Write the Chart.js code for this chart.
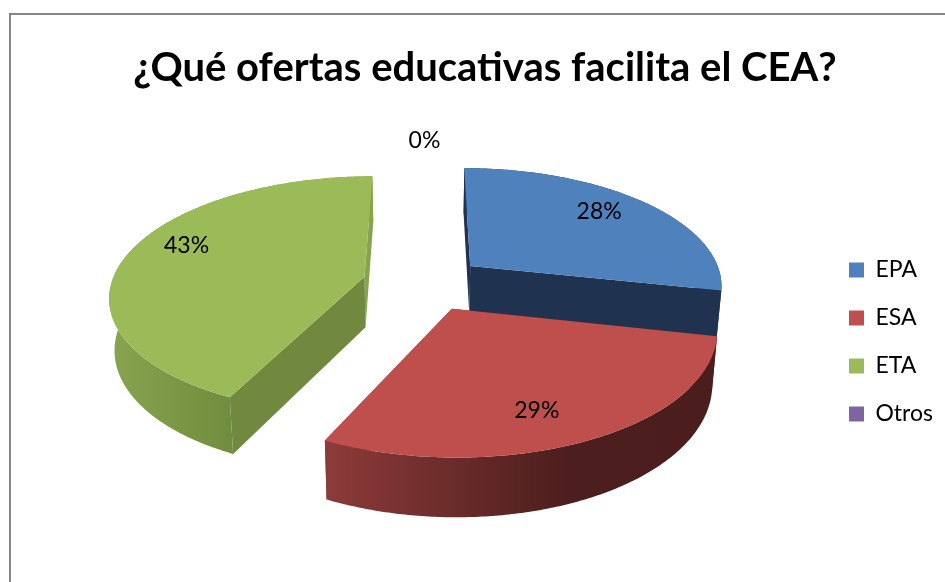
<!DOCTYPE html>
<html>
<head>
<meta charset="utf-8">
<script src="https://cdn.jsdelivr.net/npm/chart.js@4"></script>
<style>
html,body{margin:0;padding:0;background:#fff;overflow:hidden}
#frame{position:absolute;left:9px;top:13px;right:-4px;bottom:-4px;border:2px solid #868686;box-sizing:border-box}
canvas{position:absolute;left:0;top:0}
</style>
</head>
<body>
<div id="frame"></div>
<canvas id="c" width="945" height="582"></canvas>
<script>
const titleText = '¿Qué ofertas educativas facilita el CEA?';
const categories = ['EPA', 'ESA', 'ETA', 'Otros'];
const seriesValues = [28.4, 28.7, 42.9, 0];
const sliceColors = ['#4F81BD', '#BE4F4C', '#9BBB59', '#8064A2'];
const sliceOffsets = [60, 60, 62, 60];
const wallStops = [
  [[0, '#1F3350'], [1, '#1F3350']],
  [[0, '#8C3B39'], [0.62, '#4C1E1D'], [1, '#4B1D1D']],
  [[0, '#88A450'], [0.49, '#6F8C3D'], [0.5, '#86A44C'], [1, '#86A44C']],
  [[0, '#4D3C62'], [1, '#4D3C62']]
];
const cutFaceColors = [
  ['#1F3350', '#1F3350'],
  ['#4C1E1D', '#8C3B39'],
  ['#71893F', '#86A44C'],
  ['#4D3C62', '#4D3C62']
];
const paintOrder = [2, 0, 1, 3];
const labelAngleFraction = [0.469, 0.55, 0.55, 0.5];
const labelRadiusFraction = [0.775, 0.774, 0.80, 1.245];

// projection of the flat pie on the tilted perspective plane
const view = { cx: 424.5, cy: 283, k: 0.464, q: 0.0006, depth: 51, bottomX: 0.983, bottomY: 1.05 };
const legendPlacement = { left: 824, shiftY: 51 };

function top3d(x, y) {
  const w = 1 / (1 - view.q * y);
  return [view.cx + x * w, view.cy + view.k * y * w];
}
function bottom3d(x, y) {
  const p = top3d(x, y);
  return [view.cx + (p[0] - view.cx) * view.bottomX,
          view.cy + (p[1] - view.cy) * view.bottomY + view.depth];
}
function tracePoly(ctx, pts) {
  ctx.beginPath();
  pts.forEach((p, i) => i ? ctx.lineTo(p[0], p[1]) : ctx.moveTo(p[0], p[1]));
  ctx.closePath();
}

const pie3d = {
  id: 'pie3d',
  afterLayout(chart) {
    const lg = chart.legend;
    const w = lg.right - lg.left;
    lg.left = legendPlacement.left;
    lg.right = lg.left + w;
    lg.top += legendPlacement.shiftY;
    lg.bottom += legendPlacement.shiftY;
  },
  beforeDatasetsDraw(chart) {
    const ctx = chart.ctx;
    const arcs = chart.getDatasetMeta(0).data;
    ctx.save();
    paintOrder.forEach(i => {
      const a = arcs[i];
      if (a.endAngle - a.startAngle < 1e-4) return;
      const R = a.outerRadius;
      const mid = (a.startAngle + a.endAngle) / 2;
      const off = a.options.offset;
      const ox = Math.cos(mid) * off, oy = Math.sin(mid) * off;
      const n = Math.ceil((a.endAngle - a.startAngle) * 90);
      const rim = [];
      for (let s = 0; s <= n; s++) {
        const t = a.startAngle + (a.endAngle - a.startAngle) * s / n;
        rim.push([ox + R * Math.cos(t), oy + R * Math.sin(t)]);
      }
      const topRim = rim.map(p => top3d(p[0], p[1]));
      const botRim = rim.map(p => bottom3d(p[0], p[1]));
      const apexT = top3d(ox, oy), apexB = bottom3d(ox, oy);

      // the two cut faces
      ctx.fillStyle = cutFaceColors[i][1];
      tracePoly(ctx, [apexT, topRim[n], botRim[n], apexB]);
      ctx.fill();
      ctx.fillStyle = cutFaceColors[i][0];
      tracePoly(ctx, [apexT, topRim[0], botRim[0], apexB]);
      ctx.fill();

      // outer wall with a horizontal gradient over its extent
      const xs = topRim.concat(botRim).map(p => p[0]);
      const g = ctx.createLinearGradient(Math.min(...xs), 0, Math.max(...xs), 0);
      wallStops[i].forEach(st => g.addColorStop(st[0], st[1]));
      ctx.fillStyle = g;
      tracePoly(ctx, topRim.concat(botRim.slice().reverse()));
      ctx.fill();

      // top surface
      ctx.fillStyle = a.options.backgroundColor;
      tracePoly(ctx, [apexT].concat(topRim));
      ctx.fill();
    });

    // percentage labels
    ctx.fillStyle = '#000';
    ctx.font = '23px Lato';
    ctx.textAlign = 'center';
    ctx.textBaseline = 'middle';
    const total = seriesValues.reduce((s, v) => s + v, 0);
    arcs.forEach((a, i) => {
      const mid = (a.startAngle + a.endAngle) / 2;
      const t = a.startAngle + (a.endAngle - a.startAngle) * labelAngleFraction[i];
      const r = a.outerRadius * labelRadiusFraction[i];
      const ox = Math.cos(mid) * a.options.offset, oy = Math.sin(mid) * a.options.offset;
      const p = top3d(ox + r * Math.cos(t), oy + r * Math.sin(t));
      ctx.fillText(Math.round(seriesValues[i] / total * 100) + '%', p[0], p[1]);
    });
    ctx.restore();
    return false;
  }
};

new Chart(document.getElementById('c'), {
  type: 'pie',
  data: {
    labels: categories,
    datasets: [{
      data: seriesValues,
      backgroundColor: sliceColors,
      borderWidth: 0,
      offset: sliceOffsets,
      radius: 253
    }]
  },
  options: {
    responsive: false,
    animation: false,
    layout: { padding: { left: 25, right: 0, top: 0, bottom: 0 } },
    plugins: {
      title: {
        display: true,
        text: titleText,
        color: '#000',
        font: { family: 'Lato', size: 40, weight: 'bold' },
        padding: { top: 44, bottom: 10 }
      },
      legend: {
        position: 'right',
        labels: {
          color: '#000',
          font: { family: 'Lato', size: 23 },
          boxWidth: 15,
          boxHeight: 15,
          padding: 25
        }
      },
      tooltip: { enabled: false }
    }
  },
  plugins: [pie3d]
});
</script>
</body>
</html>
